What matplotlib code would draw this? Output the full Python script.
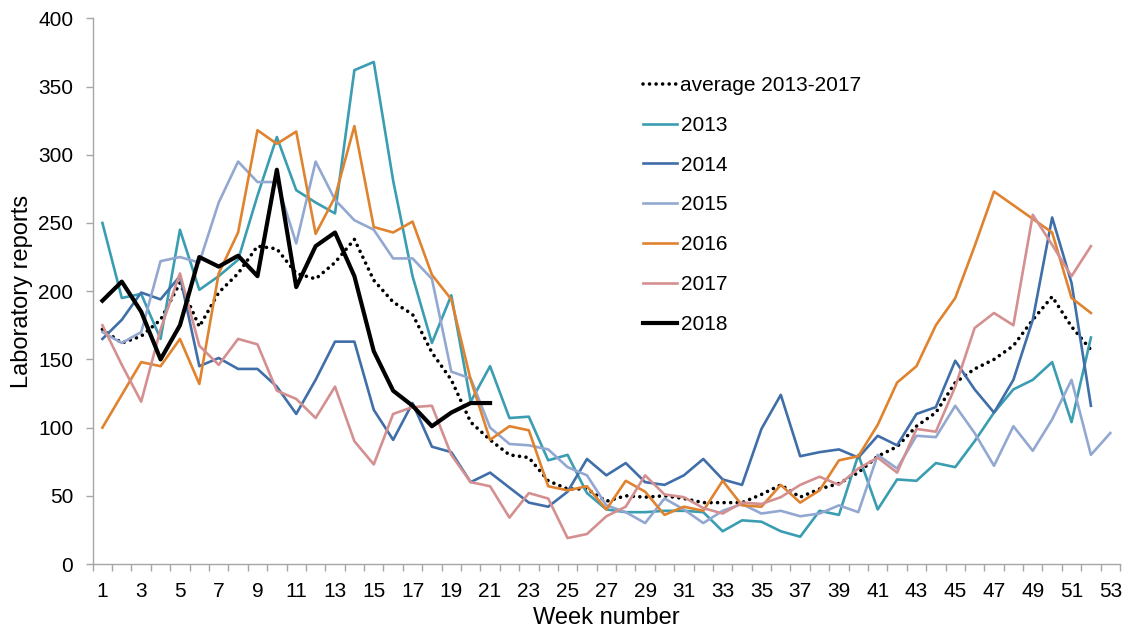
import numpy as np
import matplotlib.pyplot as plt

plt.rcParams['font.family'] = ['Liberation Sans', 'DejaVu Sans']

weeks = np.arange(1, 54)

avg_13_17 = [172, 162, 167, 179, 206, 174, 199, 213, 233, 231, 213, 209, 221, 238, 208, 192, 183, 155,
             135, 104, 91, 80, 78, 61, 55, 55, 46, 50, 49, 50, 48, 45, 45, 45, 51, 58, 49, 55, 59, 67,
             79, 86, 101, 111, 133, 143, 150, 160, 179, 196, 174, 157]
y2013 = [250, 195, 198, 165, 245, 201, 211, 223, 270, 313, 274, 265, 257, 362, 368, 281, 211, 162,
         197, 119, 145, 107, 108, 76, 80, 52, 40, 38, 38, 39, 39, 38, 24, 32, 31, 24, 20, 39, 36, 80,
         40, 62, 61, 74, 71, 90, 111, 128, 135, 148, 104, 166]
y2014 = [165, 179, 199, 194, 211, 145, 151, 143, 143, 130, 110, 135, 163, 163, 113, 91, 118, 86,
         82, 60, 67, 56, 45, 42, 53, 77, 65, 74, 60, 58, 65, 77, 62, 58, 99, 124, 79, 82, 84, 78,
         94, 87, 110, 115, 149, 128, 111, 135, 179, 254, 206, 116]
y2015 = [170, 162, 170, 222, 225, 221, 265, 295, 280, 280, 235, 295, 267, 252, 245, 224, 224, 209,
         141, 136, 100, 88, 87, 84, 71, 65, 43, 38, 30, 48, 40, 30, 39, 44, 37, 39, 35, 37, 43, 38,
         80, 70, 94, 93, 116, 96, 72, 101, 83, 106, 135, 80, 96]
y2016 = [100, 124, 148, 145, 165, 132, 213, 243, 318, 308, 317, 242, 269, 321, 247, 243, 251, 212,
         194, 135, 91, 101, 98, 57, 54, 57, 40, 61, 53, 36, 42, 39, 61, 43, 42, 58, 45, 54, 76, 79,
         102, 133, 145, 175, 195, 233, 273, 263, 253, 243, 195, 184]
y2017 = [175, 146, 119, 172, 213, 160, 146, 165, 161, 127, 121, 107, 130, 90, 73, 110, 115, 116,
         80, 60, 57, 34, 52, 48, 19, 22, 35, 42, 65, 51, 49, 41, 37, 45, 44, 49, 58, 64, 58, 70,
         78, 67, 99, 97, 130, 173, 184, 175, 256, 234, 211, 233]
y2018 = [193, 207, 185, 150, 175, 225, 218, 226, 211, 289, 203, 233, 243, 211, 156, 127, 116, 101,
         111, 118, 118]

series = [
    ('2013', y2013, '#3A9DB2'),
    ('2014', y2014, '#3F6EA9'),
    ('2015', y2015, '#93A8D1'),
    ('2016', y2016, '#E0832F'),
    ('2017', y2017, '#D49090'),
]

fig = plt.figure(figsize=(11.28, 6.34), dpi=100)
ax = fig.add_axes([0.0822, 0.1104, 0.9107, 0.8607])

ax.plot(weeks[:len(avg_13_17)], avg_13_17, color='black', lw=2.6,
        linestyle=(0, (0.01, 1.8)), dash_capstyle='round', label='average 2013-2017')
for name, vals, col in series:
    ax.plot(weeks[:len(vals)], vals, color=col, lw=1.9, label=name)
ax.plot(weeks[:len(y2018)], y2018, color='black', lw=3.0, label='2018')

ax.set_xlim(0.5, 53.5)
ax.set_ylim(0, 400)
ax.set_yticks(np.arange(0, 401, 50))
ax.set_xticks(np.arange(1, 54, 2))
ax.set_xticks(np.arange(0.5, 54, 1), minor=True)

grey = '#A6A6A6'
for s in ['top', 'right']:
    ax.spines[s].set_visible(False)
for s in ['left', 'bottom']:
    ax.spines[s].set_color(grey)
    ax.spines[s].set_linewidth(1.0)
ax.tick_params(axis='y', direction='out', length=5, width=1, color=grey, pad=9, labelsize=15)
ax.tick_params(axis='x', which='major', length=0, pad=13, labelsize=15)
ax.tick_params(axis='x', which='minor', direction='out', length=5, width=1, color=grey)

ax.set_xlabel('Week number', fontsize=17, labelpad=4)
ax.set_ylabel('Laboratory reports', fontsize=17, labelpad=4)

ax.legend(loc='upper left', bbox_to_anchor=(643 / 1128, (634 - 76) / 634),
          bbox_transform=fig.transFigure, frameon=False, fontsize=15,
          handlelength=1.65, handletextpad=0.15, labelspacing=1.0,
          borderpad=0, borderaxespad=0)

fig.savefig('out.png', dpi=100)
